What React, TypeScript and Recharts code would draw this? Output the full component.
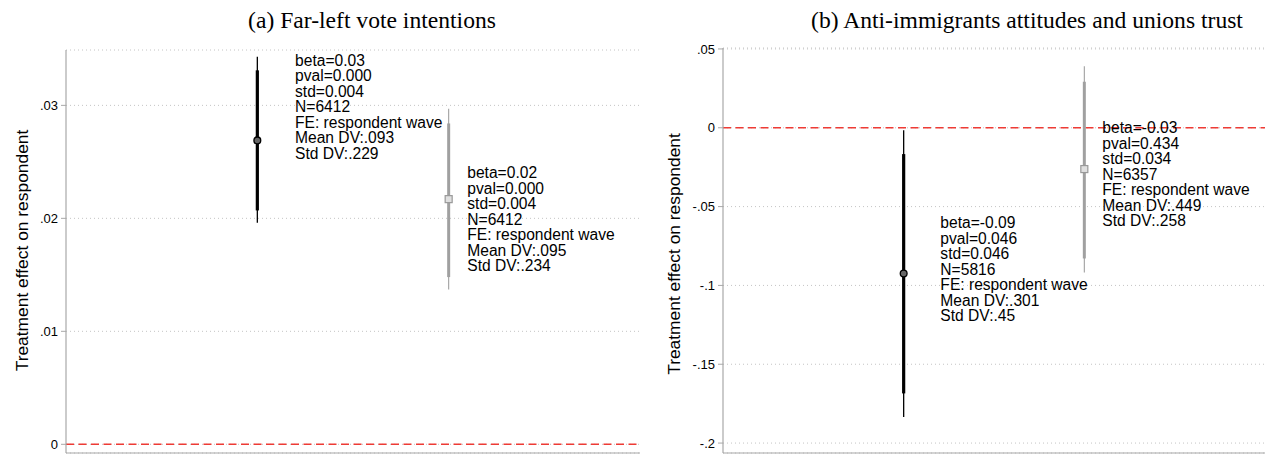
import React from 'react';
import {
  ComposedChart,
  Scatter,
  XAxis,
  YAxis,
  CartesianGrid,
  ReferenceLine,
  ErrorBar,
} from 'recharts';

// ---------- text ----------
const panelTitles = ['(a) Far-left vote intentions', '(b) Anti-immigrants attitudes and unions trust'];
const yAxisTitle = 'Treatment effect on respondent';

// ---------- panel (a) data ----------
const aPositions = [1, 2];
const aBeta = [0.0269, 0.0217];
const aLow90 = [0.0207, 0.0148];
const aHigh90 = [0.0331, 0.0284];
const aLow95 = [0.0196, 0.0137];
const aHigh95 = [0.0343, 0.0297];
const aLabels = [
  ['beta=0.03', 'pval=0.000', 'std=0.004', 'N=6412', 'FE: respondent wave', 'Mean DV:.093', 'Std DV:.229'],
  ['beta=0.02', 'pval=0.000', 'std=0.004', 'N=6412', 'FE: respondent wave', 'Mean DV:.095', 'Std DV:.234'],
];
const aTicks = [0, 0.01, 0.02, 0.03];
const aTickLabels = ['0', '.01', '.02', '.03'];
const aDomain = [-0.00077, 0.0349];

// ---------- panel (b) data ----------
const bPositions = [1, 2];
const bBeta = [-0.0924, -0.0262];
const bLow90 = [-0.1685, -0.0829];
const bHigh90 = [-0.0167, 0.0292];
const bLow95 = [-0.1834, -0.0918];
const bHigh95 = [-0.0015, 0.0391];
const bLabels = [
  ['beta=-0.09', 'pval=0.046', 'std=0.046', 'N=5816', 'FE: respondent wave', 'Mean DV:.301', 'Std DV:.45'],
  ['beta=-0.03', 'pval=0.434', 'std=0.034', 'N=6357', 'FE: respondent wave', 'Mean DV:.449', 'Std DV:.258'],
];
const bTicks = [-0.2, -0.15, -0.1, -0.05, 0, 0.05];
const bTickLabels = ['-.2', '-.15', '-.1', '-.05', '0', '.05'];
const bDomain = [-0.2063, 0.0506];

const xDomain = [0, 3];

// ---------- styles ----------
const SANS = '"Liberation Sans", Arial, Helvetica, sans-serif';
const SERIF = '"Liberation Serif", "Times New Roman", serif';
const seriesStyles = [
  { color: '#000000', thick: 3.2, thin: 1.3, marker: 'circle' },
  { color: '#a0a0a0', thick: 3, thin: 1.1, marker: 'square' },
];
const labelOffsetsA = [
  { dx: 37.7, dy: -74.7 },
  { dx: 18.6, dy: -21 },
];
const labelOffsetsB = [
  { dx: 36.7, dy: -45 },
  { dx: 18, dy: -35.7 },
];
const LINE_H = 15.5;

type Row = { x: number; y: number; e90: number[]; e95: number[]; lines: string[] };

function buildRows(pos: number[], beta: number[], lo90: number[], hi90: number[], lo95: number[], hi95: number[], labels: string[][]): Row[] {
  return pos.map((x, i) => ({
    x,
    y: beta[i],
    e90: [beta[i] - lo90[i], hi90[i] - beta[i]],
    e95: [beta[i] - lo95[i], hi95[i] - beta[i]],
    lines: labels[i],
  }));
}

const rowsA = buildRows(aPositions, aBeta, aLow90, aHigh90, aLow95, aHigh95, aLabels);
const rowsB = buildRows(bPositions, bBeta, bLow90, bHigh90, bLow95, bHigh95, bLabels);

function makeShape(styleIdx: number, off: { dx: number; dy: number }) {
  const st = seriesStyles[styleIdx];
  return (props: any) => {
    const { cx, cy, payload } = props;
    if (cx == null || cy == null) return <g />;
    const lines: string[] = payload?.lines ?? [];
    return (
      <g>
        {st.marker === 'circle' ? (
          <circle cx={cx} cy={cy} r={3.4} fill="#666" stroke="#000" strokeWidth={1.3} />
        ) : (
          <rect x={cx - 3.5} y={cy - 3.5} width={7} height={7} fill="#e0e0e0" stroke="#999" strokeWidth={1.2} />
        )}
        <text x={cx + off.dx} y={cy + off.dy} fontSize={15.6} fontFamily={SANS} fill="#000">
          {lines.map((l, i) => (
            <tspan key={i} x={cx + off.dx} dy={i === 0 ? 0 : LINE_H}>
              {l}
            </tspan>
          ))}
        </text>
      </g>
    );
  };
}

type PanelProps = {
  left: number;
  width: number;
  margin: { top: number; right: number; bottom: number; left: number };
  rows: Row[];
  domain: number[];
  ticks: number[];
  tickLabels: string[];
  offsets: { dx: number; dy: number }[];
};

function Panel({ left, width, margin, rows, domain, ticks, tickLabels, offsets }: PanelProps) {
  return (
    <div style={{ position: 'absolute', left, top: 0, width, height: 455 }}>
      <ComposedChart width={width} height={455} margin={margin}>
        <CartesianGrid horizontal vertical={false} stroke="#c4c4c4" strokeDasharray="1 3" />
        <XAxis
          type="number"
          dataKey="x"
          domain={xDomain}
          allowDataOverflow
          tick={false}
          tickLine={false}
          height={1}
          axisLine={{ stroke: '#a8a8a8', strokeWidth: 1.2 }}
        />
        <YAxis
          type="number"
          domain={domain}
          allowDataOverflow
          ticks={ticks}
          interval={0}
          width={46}
          tickSize={5}
          tickMargin={3}
          tickFormatter={(v: number) => {
            const idx = ticks.findIndex((t) => Math.abs(t - v) < 1e-9);
            return idx >= 0 ? tickLabels[idx] : '';
          }}
          tick={{ fontSize: 13, fill: '#000', fontFamily: SANS }}
          tickLine={{ stroke: '#a8a8a8' }}
          axisLine={{ stroke: '#a8a8a8', strokeWidth: 1.2 }}
        />
        <ReferenceLine y={0} stroke="#ee3b35" strokeWidth={1.4} strokeDasharray="8 4.5" />
        {rows.map((row, i) => (
          <Scatter
            key={i}
            data={[row]}
            dataKey="y"
            isAnimationActive={false}
            shape={makeShape(i, offsets[i])}
          >
            <ErrorBar dataKey="e95" direction="y" width={0} stroke={seriesStyles[i].color} strokeWidth={seriesStyles[i].thin} />
            <ErrorBar dataKey="e90" direction="y" width={0} stroke={seriesStyles[i].color} strokeWidth={seriesStyles[i].thick} />
          </Scatter>
        ))}
      </ComposedChart>
    </div>
  );
}

export default function App() {
  return (
    <div style={{ position: 'absolute', left: 0, top: 0, width: 1271, height: 455, background: '#fff' }}>
      <Panel
        left={0}
        width={640}
        margin={{ top: 50, right: 0, bottom: 1, left: 20 }}
        rows={rowsA}
        domain={aDomain}
        ticks={aTicks}
        tickLabels={aTickLabels}
        offsets={labelOffsetsA}
      />
      <Panel
        left={640}
        width={631}
        margin={{ top: 48, right: 6, bottom: 1, left: 37 }}
        rows={rowsB}
        domain={bDomain}
        ticks={bTicks}
        tickLabels={bTickLabels}
        offsets={labelOffsetsB}
      />
      <svg
        width={1271}
        height={455}
        style={{ position: 'absolute', left: 0, top: 0, pointerEvents: 'none' }}
      >
        <text x={372} y={28} textAnchor="middle" fontSize={23.6} fontFamily={SERIF} fill="#000">
          {panelTitles[0]}
        </text>
        <text x={1027} y={28} textAnchor="middle" fontSize={23.6} fontFamily={SERIF} fill="#000">
          {panelTitles[1]}
        </text>
        <text
          x={22}
          y={250.5}
          transform="rotate(-90 22 250.5)"
          textAnchor="middle"
          dominantBaseline="central"
          fontSize={17.4}
          fontFamily={SANS}
          fill="#000"
        >
          {yAxisTitle}
        </text>
        <text
          x={674}
          y={254}
          transform="rotate(-90 674 254)"
          textAnchor="middle"
          dominantBaseline="central"
          fontSize={17.4}
          fontFamily={SANS}
          fill="#000"
        >
          {yAxisTitle}
        </text>
      </svg>
    </div>
  );
}
